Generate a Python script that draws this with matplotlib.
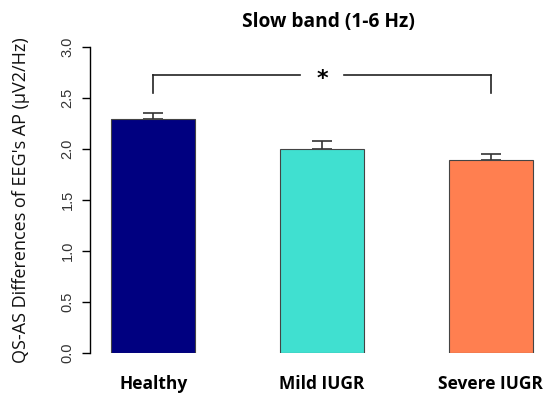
import matplotlib
matplotlib.use("Agg")
import matplotlib.pyplot as plt

categories = ["Healthy", "Mild IUGR", "Severe IUGR"]
values = [2.29, 2.00, 1.89]
errors = [0.06, 0.08, 0.06]
colors = ["#000080", "#40E0D0", "#FF7F50"]
yticks = [0.0, 0.5, 1.0, 1.5, 2.0, 2.5, 3.0]

fig = plt.figure(figsize=(5.48, 3.97), dpi=100)
ax = fig.add_axes([90/548, 44/397, 455/548, 306/397])
x = list(range(len(categories)))
ax.bar(x, values, width=0.5, color=colors, edgecolor="#444444", linewidth=0.8, zorder=2)
ax.errorbar(x, values, yerr=[[0]*3, errors], fmt="none", ecolor="#333333",
            elinewidth=1.2, capsize=7.5, capthick=1.2, zorder=1)
ax.set_xlim(-0.375, 2.321)
ax.set_ylim(0, 3)
for s in ["top", "right", "bottom"]:
    ax.spines[s].set_visible(False)
ax.spines["left"].set_bounds(0, 3)
ax.spines["left"].set_linewidth(1.0)
ax.set_yticks(yticks)
ax.set_yticklabels([f"{t:.1f}" for t in yticks], rotation=90, va="center",
                   fontsize=10.5, color="#333333", family="Liberation Sans")
ax.tick_params(axis="y", length=6, width=1.0, pad=5)
ax.set_xticks([])
ax.set_ylabel("QS-AS Differences of EEG's AP (\u00b5V2/Hz)", fontsize=13,
              family="Open Sans", labelpad=22, color="#111111")
for xi, c in zip(x, categories):
    ax.text(xi, -0.22, c, transform=ax.transData, ha="center", va="top",
            fontsize=12.5, fontweight="bold", family="Open Sans", clip_on=False)

# significance bracket
ybr, yleg = 2.73, 2.55
ax.plot([0, 0], [yleg, ybr], color="#222222", lw=1.2, clip_on=False)
ax.plot([2, 2], [yleg, ybr], color="#222222", lw=1.2, clip_on=False)
ax.plot([0, 0.87], [ybr, ybr], color="#222222", lw=1.2, clip_on=False)
ax.plot([1.13, 2], [ybr, ybr], color="#222222", lw=1.2, clip_on=False)
ax.text(1, ybr - 0.04, "*", ha="center", va="center", fontsize=16, fontweight="bold",
        family="DejaVu Sans")

fig.text(328/548, 1 - 22/397, "Slow band (1-6 Hz)", ha="center", va="center",
         fontsize=13.8, fontweight="bold", family="Open Sans")
fig.savefig("out.png", dpi=100)
